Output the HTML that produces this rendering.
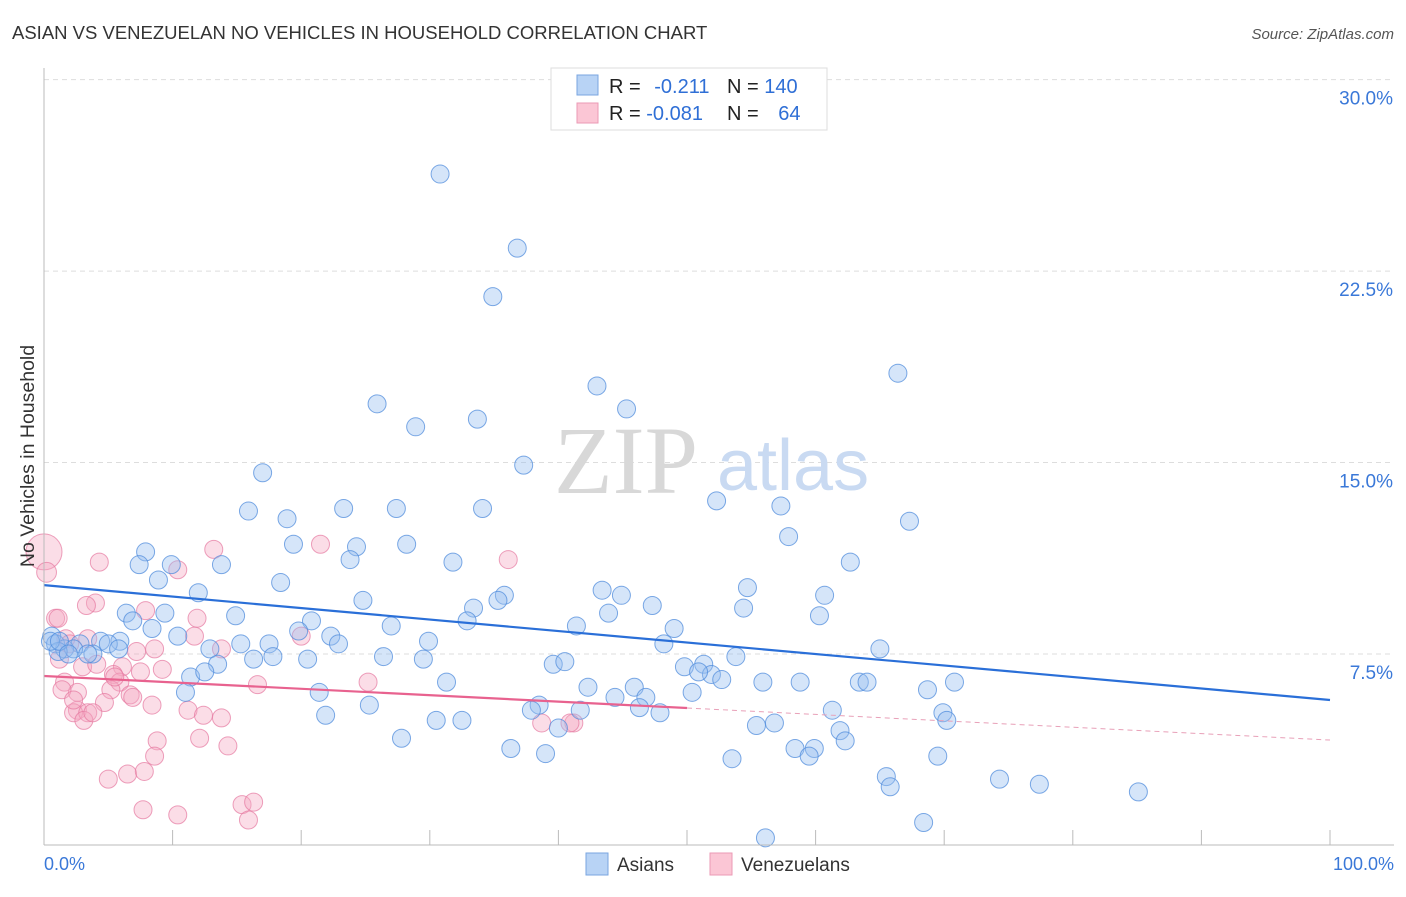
<!DOCTYPE html>
<html><head><meta charset="utf-8"><style>
body{margin:0;background:#fff;font-family:"Liberation Sans",sans-serif;}
svg text{font-family:"Liberation Sans",sans-serif;}
</style></head><body>
<svg id="chart" width="1406" height="892">
<text x="12" y="39" font-size="18.5" fill="#333">ASIAN VS VENEZUELAN NO VEHICLES IN HOUSEHOLD CORRELATION CHART</text>
<text x="1394" y="39" font-size="15" fill="#555" text-anchor="end" font-style="italic">Source: ZipAtlas.com</text>
<g id="grid"></g>
<text x="554" y="493" font-size="96" fill="#d8d8d8" font-family="Liberation Serif" style="font-family:'Liberation Serif',serif">ZIP</text>
<text x="717" y="490" font-size="72" fill="#c9daf2">atlas</text>
<g id="pts"></g>
<g id="lines"></g>
<g id="axes"></g>
<text transform="translate(34,456) rotate(-90)" font-size="19.5" fill="#333" text-anchor="middle">No Vehicles in Household</text>
<g>
<rect x="551" y="68" width="276" height="62" fill="#fff" stroke="#ddd"/>
<rect x="577" y="75" width="21" height="20" fill="#b8d3f5" stroke="#7aa6e0"/>
<rect x="577" y="103" width="21" height="20" fill="#fbc6d5" stroke="#eb9ab5"/>
<text x="609" y="93" font-size="20" fill="#222">R = <tspan fill="#2f6fd6" dx="8">-0.211</tspan></text>
<text x="727" y="93" font-size="20" fill="#222">N = <tspan fill="#2f6fd6">140</tspan></text>
<text x="609" y="120" font-size="20" fill="#222">R = <tspan fill="#2f6fd6">-0.081</tspan></text>
<text x="727" y="120" font-size="20" fill="#222">N = <tspan fill="#2f6fd6" dx="14">64</tspan></text>
</g>
<g>
<rect x="586" y="853" width="22" height="22" fill="#b8d3f5" stroke="#7aa6e0"/>
<text x="617" y="871" font-size="19" fill="#333">Asians</text>
<rect x="710" y="853" width="22" height="22" fill="#fbc6d5" stroke="#eb9ab5"/>
<text x="741" y="871" font-size="19" fill="#333">Venezuelans</text>
</g>
</svg>
<script>
const yTicks=[7.5,15,22.5,30];
const yTickLabels=["7.5%","15.0%","22.5%","30.0%"];
const xTickLabels=["0.0%","100.0%"];
const asianX=[30.8,36.8,34.9,66.4,43.0,25.9,45.3,33.7,28.9,37.3,17.0,52.3,15.9,23.3,27.4,18.9,34.1,57.3,67.3,57.9,7.9,19.4,24.3,28.2,7.4,9.9,13.8,23.8,31.8,62.7,8.9,18.4,43.4,54.7,35.8,44.9,12.0,60.7,24.8,35.3,33.4,6.4,9.4,14.9,20.8,43.9,54.4,47.3,60.3,6.9,27.0,32.9,41.4,8.4,19.8,49.0,0.6,4.4,10.4,15.3,17.5,22.3,29.9,0.9,2.8,5.9,5.0,48.2,1.6,2.3,3.8,12.9,22.9,65.0,1.1,3.4,5.8,13.5,16.3,20.5,26.4,29.5,17.8,53.8,39.6,40.5,51.3,49.8,51.9,50.9,52.7,11.4,12.5,31.3,42.3,45.9,55.9,58.8,63.4,64.0,70.8,68.7,11.0,21.4,50.4,44.4,46.8,25.3,38.5,46.3,37.9,41.7,47.9,61.3,69.9,21.9,30.5,32.5,70.2,55.4,56.8,40.0,61.9,62.3,27.8,36.3,39.0,58.4,59.9,59.5,53.5,69.5,65.5,65.8,74.3,77.4,85.1,68.4,56.1,0.5,1.2,1.9,49.2];
const asianY=[26.3,23.4,21.5,18.5,18.0,17.3,17.1,16.7,16.4,14.9,14.6,13.5,13.1,13.2,13.2,12.8,13.2,13.3,12.7,12.1,11.5,11.8,11.7,11.8,11.0,11.0,11.0,11.2,11.1,11.1,10.4,10.3,10.0,10.1,9.8,9.8,9.9,9.8,9.6,9.6,9.3,9.1,9.1,9.0,8.8,9.1,9.3,9.4,9.0,8.8,8.6,8.8,8.6,8.5,8.4,8.5,8.2,8.0,8.2,7.9,7.9,8.2,8.0,7.9,7.9,8.0,7.9,7.9,7.7,7.7,7.5,7.7,7.9,7.7,7.6,7.5,7.7,7.1,7.3,7.3,7.4,7.3,7.4,7.4,7.1,7.2,7.1,7.0,6.7,6.8,6.5,6.6,6.8,6.4,6.2,6.2,6.4,6.4,6.4,6.4,6.4,6.1,6.0,6.0,6.0,5.8,5.8,5.5,5.5,5.4,5.3,5.3,5.2,5.3,5.2,5.1,4.9,4.9,4.9,4.7,4.8,4.6,4.5,4.1,4.2,3.8,3.6,3.8,3.8,3.5,3.4,3.5,2.7,2.3,2.6,2.4,2.1,0.9,0.3,8.0,8.0,7.5,29.2];
const venX=[0,0.2,4.3,13.2,21.5,36.1,10.4,0.9,1.1,4.0,3.3,7.9,11.9,1.7,2.0,11.7,8.6,20.0,13.8,3.0,4.1,6.1,9.2,7.2,7.5,5.4,5.9,1.6,2.6,1.4,5.2,6.7,6.9,16.6,25.2,4.7,8.4,2.6,2.3,3.4,3.1,3.8,11.2,12.4,13.8,38.7,41.2,40.9,8.8,12.1,14.3,8.6,5.0,6.5,7.8,7.7,10.4,15.4,16.3,15.9,3.4,5.5,1.2,2.3];
const venY=[11.5,10.7,11.1,11.6,11.8,11.2,10.8,8.9,8.9,9.5,9.4,9.2,8.9,8.1,7.9,8.2,7.7,8.2,7.7,7.0,7.1,7.0,6.9,7.6,6.8,6.7,6.4,6.4,6.0,6.1,6.1,5.9,5.8,6.3,6.4,5.6,5.5,5.3,5.2,5.2,4.9,5.2,5.3,5.1,5.0,4.8,4.8,4.8,4.1,4.2,3.9,3.5,2.6,2.8,2.9,1.4,1.2,1.6,1.7,1.0,8.1,6.6,7.3,5.7];
const venWeight=[2,1.1,1,1,1,1,1,1,1,1,1,1,1,1,1,1,1,1,1,1,1,1,1,1,1,1,1,1,1,1,1,1,1,1,1,1,1,1,1,1,1,1,1,1,1,1,1,1,1,1,1,1,1,1,1,1,1,1,1,1,1,1,1,1];
const asianTrend=[10.2,5.7];
const venTrend=[6.64,4.13];

const X=v=>44+v*12.86, Y=v=>845.5-v*25.53;
const NS="http://www.w3.org/2000/svg";
function mk(tag,attrs,parent){const e=document.createElementNS(NS,tag);for(const k in attrs)e.setAttribute(k,attrs[k]);parent.appendChild(e);return e;}
const grid=document.getElementById('grid'),axes=document.getElementById('axes'),pts=document.getElementById('pts'),lines=document.getElementById('lines');
yTicks.forEach((t,i)=>{
 const l=mk('line',{x1:44,x2:1394,y1:Y(t),y2:Y(t),stroke:'#ddd','stroke-dasharray':'5,4'},grid);
 
 
 const tx=mk('text',{x:1393,y:Y(t)+25,'font-size':19,fill:'#3a78d8','text-anchor':'end'},axes);
 tx.textContent=yTickLabels[i];
 
 
});
mk('line',{x1:44,x2:44,y1:68,y2:845,stroke:'#bbb'},axes);
mk('line',{x1:44,x2:1394,y1:845,y2:845,stroke:'#bbb'},axes);
for(let i=0;i<=10;i++){const t=mk('line',{x1:X(i*10),x2:X(i*10),y1:830,y2:845,stroke:'#bbb'},axes);
 
 }
[[0,'start',44],[1,'end',1394]].forEach(([i,a,x])=>{const t=mk('text',{x:x,y:870,'font-size':18,fill:'#3a78d8','text-anchor':a},axes);t.textContent=xTickLabels[i];
 
 });
venX.forEach((v,i)=>{const c=mk('circle',{cx:X(v),cy:Y(venY[i]),r:9*venWeight[i],fill:'rgba(246,170,195,0.4)',stroke:'rgba(230,120,160,0.7)','stroke-width':1},pts);
 
 });
asianX.forEach((v,i)=>{const c=mk('circle',{cx:X(v),cy:Y(asianY[i]),r:9,fill:'rgba(150,190,240,0.4)',stroke:'rgba(80,140,220,0.75)','stroke-width':1},pts);
 
 });
const a=mk('line',{x1:X(0),y1:Y(asianTrend[0]),x2:X(100),y2:Y(asianTrend[1]),stroke:'#2a6fd8','stroke-width':2.2},lines);


const vm=(venTrend[0]+venTrend[1])/2;
const p1=mk('line',{x1:X(0),y1:Y(venTrend[0]),x2:X(50),y2:Y(vm),stroke:'#e8628f','stroke-width':2.2},lines);


const p2=mk('line',{x1:X(50),y1:Y(vm),x2:X(100),y2:Y(venTrend[1]),stroke:'#e8a0b8','stroke-width':1,'stroke-dasharray':'5,4'},lines);


</script>
</body></html>
